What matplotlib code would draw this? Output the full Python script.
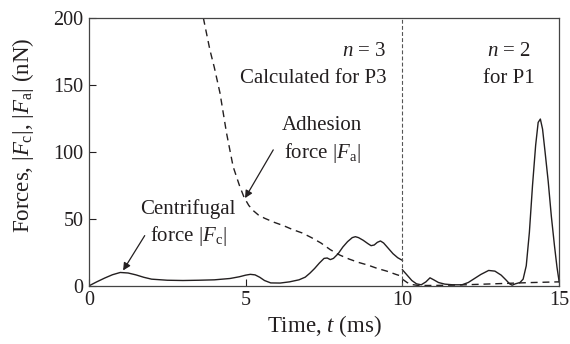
import matplotlib
matplotlib.use('Agg')
import matplotlib.pyplot as plt

plt.rcParams['font.family'] = 'Liberation Serif'
plt.rcParams['mathtext.fontset'] = 'custom'
plt.rcParams['mathtext.rm'] = 'Liberation Serif'
plt.rcParams['mathtext.it'] = 'Liberation Serif:italic'

ink = '#231f20'

# centrifugal force |Fc|, n = 3 part (0-10 ms) and n = 2 part (10-15 ms)
t_c1 = [0, 0.25, 0.5, 0.75, 1.0, 1.25, 1.5, 1.75, 2.0, 2.5, 3.0, 3.5, 4.0,
        4.5, 4.8, 5.0, 5.15, 5.3, 5.45, 5.6, 5.8, 6.1, 6.4, 6.7, 6.9, 7.05,
        7.2, 7.35, 7.5, 7.6, 7.7, 7.8, 7.95, 8.1, 8.25, 8.4, 8.5, 8.6, 8.75,
        8.9, 9.0, 9.1, 9.2, 9.3, 9.4, 9.55, 9.7, 9.85, 10.0]
f_c1 = [0, 3, 5.8, 8.3, 10, 9.6, 8.2, 6.4, 5, 4.2, 4, 4.2, 4.5,
        5.5, 6.8, 8, 8.6, 8.2, 6.4, 4, 2.2, 2.1, 3, 4.5, 6.5, 9.5,
        13, 17, 20.5, 20.8, 19.6, 20.5, 24, 29, 33, 36, 36.7, 36, 34,
        31.5, 30, 30.5, 32.5, 33.5, 32, 28, 24, 21, 19]
t_c2 = [10.0, 10.15, 10.3, 10.45, 10.6, 10.75, 10.88, 11.0, 11.15, 11.35,
        11.6, 11.9, 12.1, 12.3, 12.5, 12.75, 12.95, 13.15, 13.3, 13.42, 13.5,
        13.6, 13.75, 13.85, 13.95, 14.05, 14.15, 14.25, 14.33, 14.4, 14.47,
        14.55, 14.65, 14.75, 14.85, 14.93, 15.0]
f_c2 = [12, 8, 4, 1.5, 0.8, 3, 6, 4.5, 2.5, 1.3,
        0.8, 0.8, 2.5, 5.5, 8.5, 11.5, 11, 8, 4.5, 1.5, 0.5,
        1.5, 2.5, 5, 15, 40, 75, 105, 122, 124.5, 117,
        100, 78, 52, 30, 14, 3]

# adhesion force |Fa|
t_a1 = [3.65, 3.86, 4.0, 4.18, 4.39, 4.6, 4.8, 4.95, 5.1, 5.25, 5.4, 5.6,
        5.9, 6.2, 6.5, 6.8, 7.1, 7.4, 7.7, 8.0, 8.3, 8.6, 8.9, 9.2, 9.5,
        9.8, 10.0]
f_a1 = [200, 176, 163, 144, 114, 89, 75, 66, 60, 56, 53, 50.5,
        47.5, 45, 42, 39.5, 36, 32, 27, 23, 20, 17.5, 15.5, 13, 11,
        8.5, 7]
t_a2 = [10.0, 10.15, 10.3, 10.5, 11, 11.5, 12, 12.5, 13, 13.5, 14, 14.5, 15]
f_a2 = [5, 2.5, 1, 0.3, 0.3, 0.5, 0.8, 1.2, 1.6, 2, 2.4, 2.7, 3]

fig = plt.figure(figsize=(5.7, 3.44), dpi=100)
ax = fig.add_axes([0.156, 0.169, 0.825, 0.779])

ax.plot(t_c1, f_c1, color=ink, lw=1.0)
ax.plot(t_c2, f_c2, color=ink, lw=1.0)
ax.plot(t_a1, f_a1, color=ink, lw=1.0, dashes=(5, 3.5))
ax.plot(t_a2, f_a2, color=ink, lw=1.0, dashes=(5, 3.5))
ax.axvline(10, color='#555555', lw=0.8, dashes=(3.5, 2))

ax.set_xlim(0, 15)
ax.set_ylim(0, 200)
ax.set_xticks([0, 5, 10, 15])
ax.set_yticks([0, 50, 100, 150, 200])
ax.tick_params(direction='in', length=5, width=0.8, color=ink,
               labelsize=14.5, labelcolor=ink, pad=4)
for s in ax.spines.values():
    s.set_color('#444444')
    s.set_linewidth(0.9)

ax.set_xlabel(r'Time, $t$ (ms)', fontsize=16.5, color=ink, labelpad=2)
ax.set_ylabel(r'Forces, $|F_\mathrm{c}|$, $|F_\mathrm{a}|$ (nN)',
              fontsize=16.5, color=ink)
ax.yaxis.set_label_coords(-0.112, 0.56)

fs = 15
ax.text(9.5, 175, r'$n$ = 3', ha='right', va='center', fontsize=fs, color=ink)
ax.text(9.5, 155, 'Calculated for P3', ha='right', va='center', fontsize=fs, color=ink)
ax.text(13.4, 175, r'$n$ = 2', ha='center', va='center', fontsize=fs, color=ink)
ax.text(13.4, 155, 'for P1', ha='center', va='center', fontsize=fs, color=ink)
ax.text(7.44, 120, 'Adhesion', ha='center', va='center', fontsize=fs, color=ink)
ax.text(7.44, 99, r'force $|F_\mathrm{a}|$', ha='center', va='center', fontsize=fs, color=ink)
ax.text(3.16, 57, 'Centrifugal', ha='center', va='center', fontsize=fs, color=ink)
ax.text(3.16, 37, r'force $|F_\mathrm{c}|$', ha='center', va='center', fontsize=fs, color=ink)

arrow = dict(arrowstyle='-|>', color=ink, lw=0.9, mutation_scale=11,
             shrinkA=0, shrinkB=0)
ax.annotate('', xy=(4.98, 65.5), xytext=(5.88, 101.5), arrowprops=arrow)
ax.annotate('', xy=(1.09, 11.5), xytext=(1.78, 37.5), arrowprops=arrow)

fig.savefig('out.png', dpi=100)
